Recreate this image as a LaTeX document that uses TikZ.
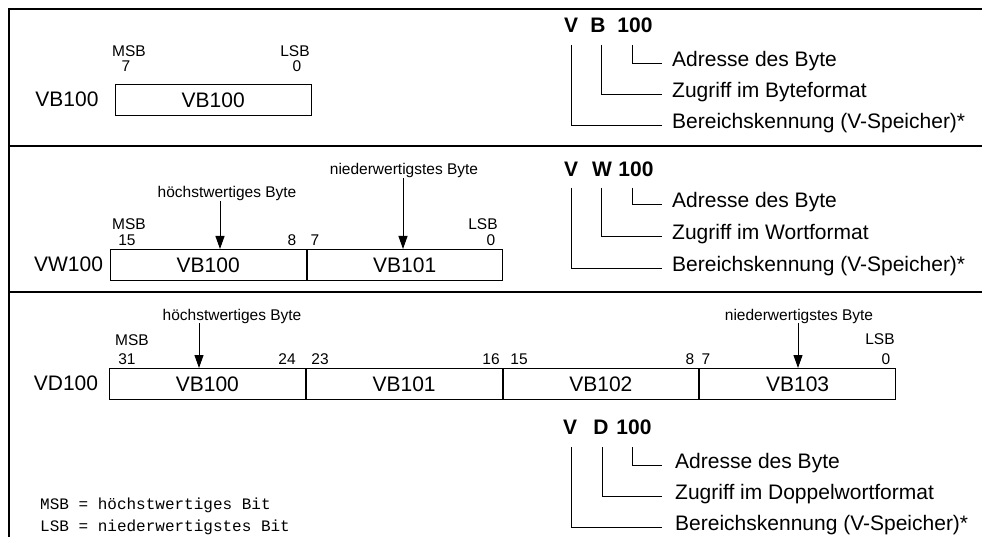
\documentclass[tikz,border=0pt]{standalone}
\usepackage{fontspec}
\setmainfont{Liberation Sans}
\newfontfamily\monof{Liberation Mono}
\usetikzlibrary{arrows.meta}
\begin{document}
\begin{tikzpicture}[x=1pt,y=-1pt,
  big/.style={font=\fontsize{21}{24}\selectfont, inner sep=0pt},
  bigb/.style={font=\fontsize{21}{24}\selectfont\bfseries, inner sep=0pt, anchor=base},
  sml/.style={font=\fontsize{15.5}{18}\selectfont, inner sep=0pt, anchor=base},
  mono/.style={font=\monof\fontsize{16}{20}\selectfont, inner sep=0pt, anchor=base west},
  cell/.style={draw, line width=1pt, minimum height=31pt, minimum width=195.5pt, inner sep=0pt,
               font=\fontsize{21}{24}\selectfont, anchor=north west},
  frame/.style={line width=1.8pt},
  conn/.style={line width=1pt},
  arr/.style={line width=1pt, -{Triangle[width=9pt,length=13pt]}},
]
\useasboundingbox (0,0) rectangle (982,537);

% frame
\draw[frame] (982,9) -- (9,9) -- (9,537);
\draw[frame] (9,146) -- (982,146);
\draw[frame] (9,292) -- (982,292);

% ---------------- panel 1 ----------------
\node[big] (l1) at (67,99.5) {VB100};
\node[cell] (c11) at (115,84) {VB100};
\node[sml] (p1msb) at (129,57) {MSB};
\node[sml] (p1b7) at (126,72) {7};
\node[sml] (p1lsb) at (295,57) {LSB};
\node[sml] (p1b0) at (297,72) {0};

\node[bigb] (p1v) at (571,33) {V};
\node[bigb] (p1b) at (598,33) {B};
\node[bigb] (p1n) at (635,33) {100};
\node[big, anchor=base west] (p1a) at (672,66.5) {Adresse des Byte};
\node[big, anchor=base west] (p1z) at (672,97.5) {Zugriff im Byteformat};
\node[big, anchor=base west] (p1r) at (672,129) {Bereichskennung (V-Speicher)*};
\draw[conn] ([yshift=-12pt]p1v.base) |- ([xshift=-10pt,yshift=3pt]p1r.base west);
\draw[conn] ([xshift=3pt,yshift=-12pt]p1b.base) |- ([xshift=-10pt,yshift=3pt]p1z.base west);
\draw[conn] ([xshift=-3pt,yshift=-12pt]p1n.base) |- ([xshift=-10pt,yshift=3pt]p1a.base west);

% ---------------- panel 2 ----------------
\node[big] (l2) at (68.5,264.5) {VW100};
\node[cell] (c21) at (110,249) {VB100};
\node[cell] (c22) at (c21.north east) {VB101};
\node[sml] (p2msb) at (129,230) {MSB};
\node[sml] (p2b15) at (127,246) {15};
\node[sml] (p2b8) at (292,246) {8};
\node[sml] (p2b7) at (315,246) {7};
\node[sml] (p2lsb) at (483,230) {LSB};
\node[sml] (p2b0) at (491,246) {0};
\node[sml] (h2) at (227,198) {höchstwertiges Byte};
\node[sml] (n2) at (404,175) {niederwertigstes Byte};
\coordinate (x21) at (220,0);
\coordinate (x22) at (403,0);
\draw[arr] (h2.south -| x21) -- (c21.north -| x21);
\draw[arr] (n2.south -| x22) -- (c22.north -| x22);

\node[bigb] (p2v) at (571,177) {V};
\node[bigb] (p2w) at (602,177) {W};
\node[bigb] (p2n) at (636,177) {100};
\node[big, anchor=base west] (p2a) at (672,208) {Adresse des Byte};
\node[big, anchor=base west] (p2z) at (672,240) {Zugriff im Wortformat};
\node[big, anchor=base west] (p2r) at (672,271.5) {Bereichskennung (V-Speicher)*};
\draw[conn] ([yshift=-11pt]p2v.base) |- ([xshift=-10pt,yshift=3pt]p2r.base west);
\draw[conn] ([xshift=-1pt,yshift=-11pt]p2w.base) |- ([xshift=-10pt,yshift=3pt]p2z.base west);
\draw[conn] ([xshift=-4pt,yshift=-11pt]p2n.base) |- ([xshift=-10pt,yshift=3pt]p2a.base west);

% ---------------- panel 3 ----------------
\node[big] (l3) at (66,383.5) {VD100};
\node[cell, minimum width=195.75pt] (c31) at (109,368) {VB100};
\node[cell, minimum width=195.75pt] (c32) at (c31.north east) {VB101};
\node[cell, minimum width=195.75pt] (c33) at (c32.north east) {VB102};
\node[cell, minimum width=195.75pt] (c34) at (c33.north east) {VB103};
\node[sml] (p3msb) at (132,345) {MSB};
\node[sml] (p3b31) at (127,364) {31};
\node[sml] (p3b24) at (287,364) {24};
\node[sml] (p3b23) at (320,364) {23};
\node[sml] (p3b16) at (491,364) {16};
\node[sml] (p3b15) at (519,364) {15};
\node[sml] (p3b8) at (690,364) {8};
\node[sml] (p3b7) at (706,364) {7};
\node[sml] (p3b0) at (886,364) {0};
\node[sml] (p3lsb) at (880,344) {LSB};
\node[sml] (h3) at (232,320) {höchstwertiges Byte};
\node[sml] (n3) at (799,320) {niederwertigstes Byte};
\coordinate (x31) at (199,0);
\coordinate (x34) at (798,0);
\draw[arr] (h3.south -| x31) -- (c31.north -| x31);
\draw[arr] (n3.south -| x34) -- (c34.north -| x34);

\node[bigb] (p3v) at (570,434) {V};
\node[bigb] (p3d) at (601,434) {D};
\node[bigb] (p3n) at (634,434) {100};
\node[big, anchor=base west] (p3a) at (675,468) {Adresse des Byte};
\node[big, anchor=base west] (p3z) at (675,499) {Zugriff im Doppelwortformat};
\node[big, anchor=base west] (p3r) at (675,530) {Bereichskennung (V-Speicher)*};
\draw[conn] ([xshift=1pt,yshift=-13pt]p3v.base) |- ([xshift=-13pt,yshift=3pt]p3r.base west);
\draw[conn] ([xshift=1pt,yshift=-13pt]p3d.base) |- ([xshift=-13pt,yshift=3pt]p3z.base west);
\draw[conn] ([xshift=-2pt,yshift=-13pt]p3n.base) |- ([xshift=-13pt,yshift=3pt]p3a.base west);

\node[mono] (m1) at (40,509) {MSB = höchstwertiges Bit};
\node[mono] (m2) at (40,531) {LSB = niederwertigstes Bit};
\end{tikzpicture}
\end{document}
